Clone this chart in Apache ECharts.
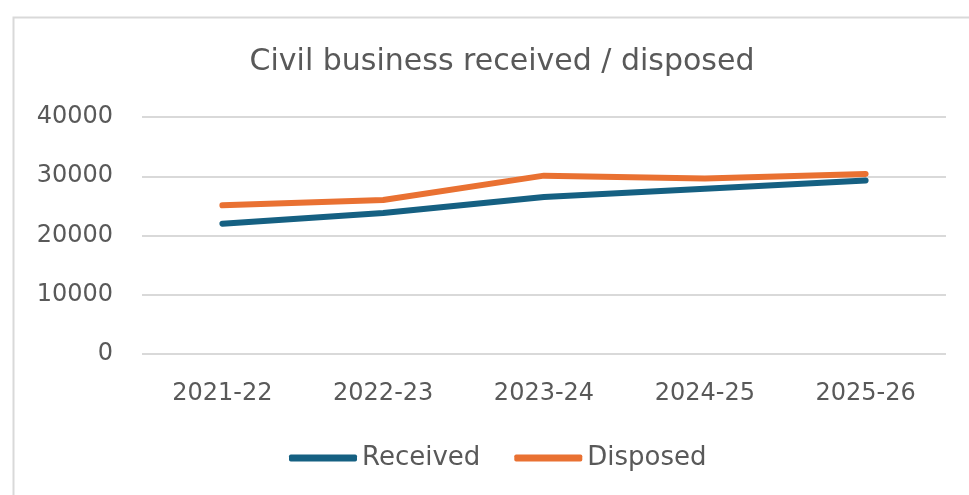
<!DOCTYPE html>
<html>
<head>
<meta charset="utf-8">
<script src="https://cdn.jsdelivr.net/npm/echarts@6/dist/echarts.min.js"></script>
<style>
  html, body { margin: 0; padding: 0; background: #ffffff; }
  #chart { width: 969px; height: 495px; }
</style>
</head>
<body>
<div id="chart"></div>
<script>
// Financial years on the category axis
const years = ['2021-22', '2022-23', '2023-24', '2024-25', '2025-26'];
// Civil business volumes per year
const received = [22000, 23800, 26500, 27900, 29300];
const disposed = [25100, 26000, 30100, 29600, 30400];
// Value axis ticks
const yTicks = [0, 10000, 20000, 30000, 40000];

const textColor = '#595959';
const fontFamily = '"DejaVu Sans", sans-serif';

const chart = echarts.init(document.getElementById('chart'), null, { renderer: 'canvas' });

chart.setOption({
  backgroundColor: '#ffffff',
  animation: false,
  graphic: [{
    type: 'rect',
    left: 11,
    top: 15,
    shape: { width: 1000, height: 520 },
    style: { fill: 'none', stroke: '#d9d9d9', lineWidth: 2 },
    silent: true,
    z: -1
  }],
  title: {
    text: 'Civil business received / disposed',
    left: 497,
    top: 42,
    textAlign: 'center',
    textStyle: { color: textColor, fontSize: 30, fontWeight: 'normal', fontFamily }
  },
  legend: {
    data: ['Received', 'Disposed'],
    left: 284,
    top: 440,
    icon: 'roundRect',
    itemWidth: 68,
    itemHeight: 7,
    itemGap: 34,
    textStyle: { color: textColor, fontSize: 26, fontFamily }
  },
  grid: { left: 142, right: 23, top: 117, bottom: 141, containLabel: false },
  xAxis: {
    type: 'category',
    data: years,
    boundaryGap: true,
    axisLine: { show: false },
    axisTick: { show: false },
    axisLabel: { color: textColor, fontSize: 24, fontFamily, margin: 28 }
  },
  yAxis: {
    type: 'value',
    min: yTicks[0],
    max: yTicks[yTicks.length - 1],
    interval: yTicks[1] - yTicks[0],
    axisLine: { show: false },
    axisTick: { show: false },
    axisLabel: { color: textColor, fontSize: 24, fontFamily, margin: 29, formatter: v => String(v) },
    splitLine: { lineStyle: { color: '#d9d9d9', width: 2 } }
  },
  series: [
    {
      name: 'Received',
      type: 'line',
      data: received,
      symbol: 'none',
      lineStyle: { color: '#156082', width: 6, cap: 'round', join: 'round' },
      itemStyle: { color: '#156082' }
    },
    {
      name: 'Disposed',
      type: 'line',
      data: disposed,
      symbol: 'none',
      lineStyle: { color: '#E97132', width: 6, cap: 'round', join: 'round' },
      itemStyle: { color: '#E97132' }
    }
  ]
});
</script>
</body>
</html>
